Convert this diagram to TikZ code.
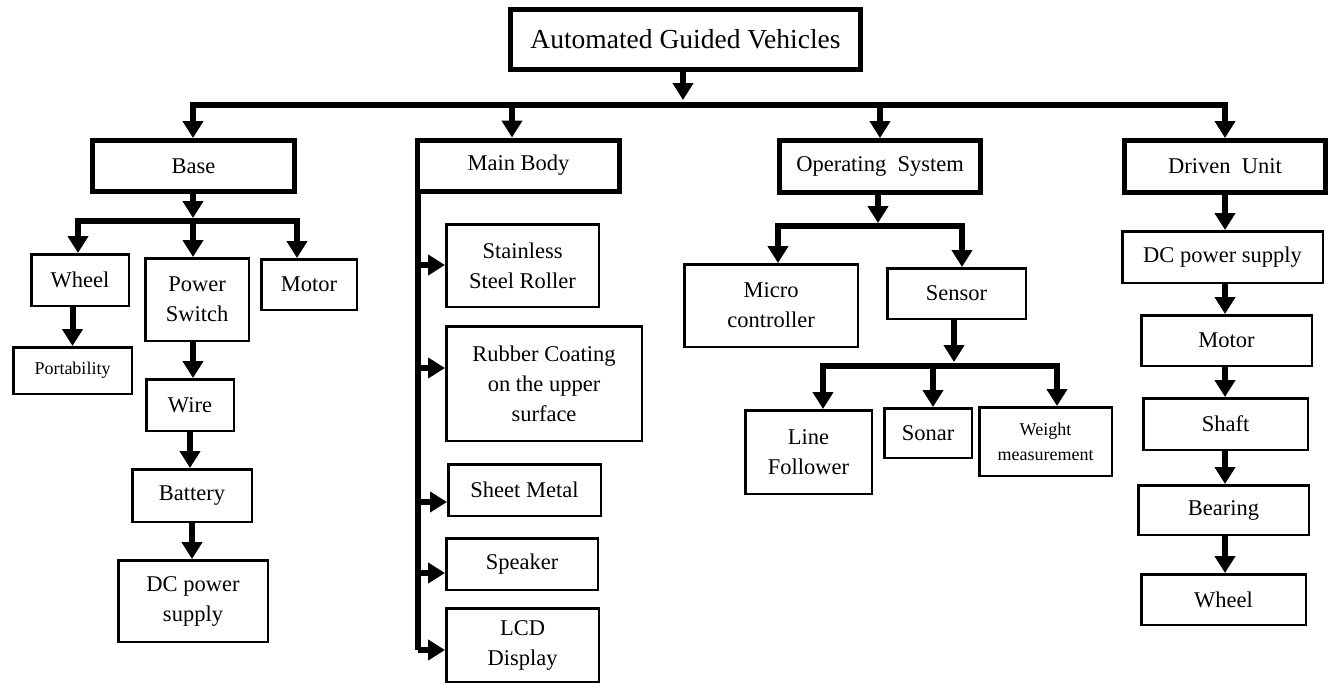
\documentclass[tikz,border=0pt]{standalone}
\usepackage{fontspec}
\setmainfont{Liberation Serif}
\usetikzlibrary{arrows.meta}
\begin{document}
\begin{tikzpicture}[x=1pt,y=-1pt,
  bx/.style={draw, line width=2.5pt, inner sep=2pt, align=center, font=\fontsize{22.5}{30}\selectfont},
  hbx/.style={bx, line width=5pt},
  smallbx/.style={bx, font=\fontsize{18}{25}\selectfont},
  arr/.style={line width=6pt, -{Triangle[length=17pt,width=20pt]}},
  ln/.style={line width=6pt, line cap=rect}]
\useasboundingbox (0,0) rectangle (1338,691);

% top
\node[hbx, font=\fontsize{27.5}{30}\selectfont, minimum width=350pt, minimum height=60pt] (agv) at (685.5,39.5) {Automated Guided Vehicles};

% level 1
\node[hbx, minimum width=202pt, minimum height=51pt] (base) at (193.5,166) {Base};
\node[hbx, minimum width=202pt, minimum height=51pt] (mb) at (518.5,165.5) {Main Body};
\node[hbx, minimum width=201pt, minimum height=52pt] (os) at (880,166.5) {Operating\ \ System};
\node[hbx, minimum width=201pt, minimum height=52pt] (du) at (1225,166.5) {Driven\ \ Unit};

% base subtree
\node[bx, minimum width=97.5pt, minimum height=51.5pt] (wheel) at (80,280) {Wheel};
\node[bx, minimum width=103.5pt, minimum height=82.5pt] (ps) at (197,299.5) {Power\\Switch};
\node[bx, minimum width=95.5pt, minimum height=50.5pt] (motor) at (309,284.5) {Motor};
\node[smallbx, minimum width=118.5pt, minimum height=46.5pt] (port) at (72.5,370.5) {Portability};
\node[bx, minimum width=87.5pt, minimum height=51.5pt] (wire) at (190,405) {Wire};
\node[bx, minimum width=119.5pt, minimum height=52.5pt] (bat) at (192,495.5) {Battery};
\node[bx, minimum width=149.5pt, minimum height=81.5pt] (dca) at (193,601) {DC power\\supply};

% main body subtree
\node[bx, minimum width=152.5pt, minimum height=82.5pt] (ssr) at (522.5,265.5) {Stainless\\Steel Roller};
\node[bx, minimum width=195.5pt, minimum height=114.5pt] (rub) at (544,383.5) {Rubber Coating\\on the upper\\surface};
\node[bx, minimum width=152.5pt, minimum height=51.5pt] (sheet) at (524.5,490) {Sheet Metal};
\node[bx, minimum width=151.5pt, minimum height=51.5pt] (spk) at (522,564) {Speaker};
\node[bx, minimum width=152.5pt, minimum height=73.5pt] (lcd) at (522.5,645) {LCD\\Display};

% operating system subtree
\node[bx, minimum width=173.5pt, minimum height=82.5pt] (mc) at (771,305.5) {Micro\\controller};
\node[bx, minimum width=138.5pt, minimum height=50.5pt] (sen) at (956.5,293.5) {Sensor};
\node[bx, minimum width=126.5pt, minimum height=83.5pt] (lf) at (808.5,452) {Line\\Follower};
\node[bx, minimum width=87.5pt, minimum height=49.5pt] (son) at (928,433) {Sonar};
\node[smallbx, minimum width=132.5pt, minimum height=68.5pt] (wm) at (1045.5,441.5) {Weight\\measurement};

% driven unit subtree
\node[bx, minimum width=200.5pt, minimum height=51.5pt] (dcb) at (1222.5,257) {DC power supply};
\node[bx, minimum width=170.5pt, minimum height=50.5pt] (mot2) at (1226.5,340.5) {Motor};
\node[bx, minimum width=164.5pt, minimum height=51.5pt] (shaft) at (1225.5,424) {Shaft};
\node[bx, minimum width=170.5pt, minimum height=49.5pt] (bear) at (1223.5,510) {Bearing};
\node[bx, minimum width=164.5pt, minimum height=50.5pt] (wh2) at (1223.5,599.5) {Wheel};

% top-level connectors
\coordinate (t0) at (683,100);
\draw[arr] (agv.south -| t0) -- (t0);
\coordinate (bl) at (193,105);
\coordinate (d2) at (512,105);
\coordinate (d3) at (880,105);
\coordinate (br) at (1225,105);
\draw[ln] (bl) -- (br);
\draw[arr] (bl) -- (bl |- base.north);
\draw[arr] (d2) -- (d2 |- mb.north);
\draw[arr] (d3) -- (d3 |- os.north);
\draw[arr] (br) -- (br |- du.north);

% base connectors
\coordinate (bb) at (193,218);
\draw[arr] (base.south -| bb) -- (bb);
\coordinate (bwl) at (78,221);
\coordinate (bwm) at (193,221);
\coordinate (bwr) at (297,221);
\draw[ln] (bwl) -- (bwr);
\draw[arr] (bwl) -- (bwl |- wheel.north);
\draw[arr] (bwm) -- (bwm |- ps.north);
\draw[arr] (bwr) -- (bwr |- motor.north);
\draw[arr] (wheel.south -| port.north) -- (port.north);
\coordinate (px) at (193,0);
\draw[arr] (ps.south -| px) -- (wire.north -| px);
\coordinate (wx) at (190,0);
\draw[arr] (wire.south -| wx) -- (bat.north -| wx);
\coordinate (ax) at (192,0);
\draw[arr] (bat.south -| ax) -- (dca.north -| ax);

% main body connectors
\coordinate (mv) at (418,650);
\draw[line width=6pt] (mb.south west -| mv) -- (mv);
\coordinate (m1) at (418,265);
\coordinate (m2) at (418,368);
\coordinate (m3) at (418,502);
\coordinate (m4) at (418,573);
\draw[arr] (m1) -- (m1 -| ssr.west);
\draw[arr] (m2) -- (m2 -| rub.west);
\draw[arr] (m3) -- (m3 -| sheet.west);
\draw[arr] (m4) -- (m4 -| spk.west);
\draw[arr] (mv) -- (mv -| lcd.west);

% operating system connectors
\coordinate (oc) at (878,223);
\draw[arr] (os.south -| oc) -- (oc);
\coordinate (ol) at (778,226);
\coordinate (orr) at (962,226);
\draw[ln] (ol) -- (orr);
\draw[arr] (ol) -- (ol |- mc.north);
\draw[arr] (orr) -- (orr |- sen.north);
\coordinate (sc) at (954,362);
\draw[arr] (sen.south -| sc) -- (sc);
\coordinate (sl) at (823,366);
\coordinate (sm) at (933,366);
\coordinate (sr) at (1057,366);
\draw[ln] (sl) -- (sr);
\draw[arr] (sl) -- (sl |- lf.north);
\draw[arr] (sm) -- (sm |- son.north);
\draw[arr] (sr) -- (sr |- wm.north);

% driven unit connectors
\coordinate (dx) at (1225,0);
\draw[arr] (du.south -| dx) -- (dcb.north -| dx);
\draw[arr] (dcb.south -| dx) -- (mot2.north -| dx);
\draw[arr] (mot2.south -| dx) -- (shaft.north -| dx);
\draw[arr] (shaft.south -| dx) -- (bear.north -| dx);
\draw[arr] (bear.south -| dx) -- (wh2.north -| dx);
\end{tikzpicture}
\end{document}
